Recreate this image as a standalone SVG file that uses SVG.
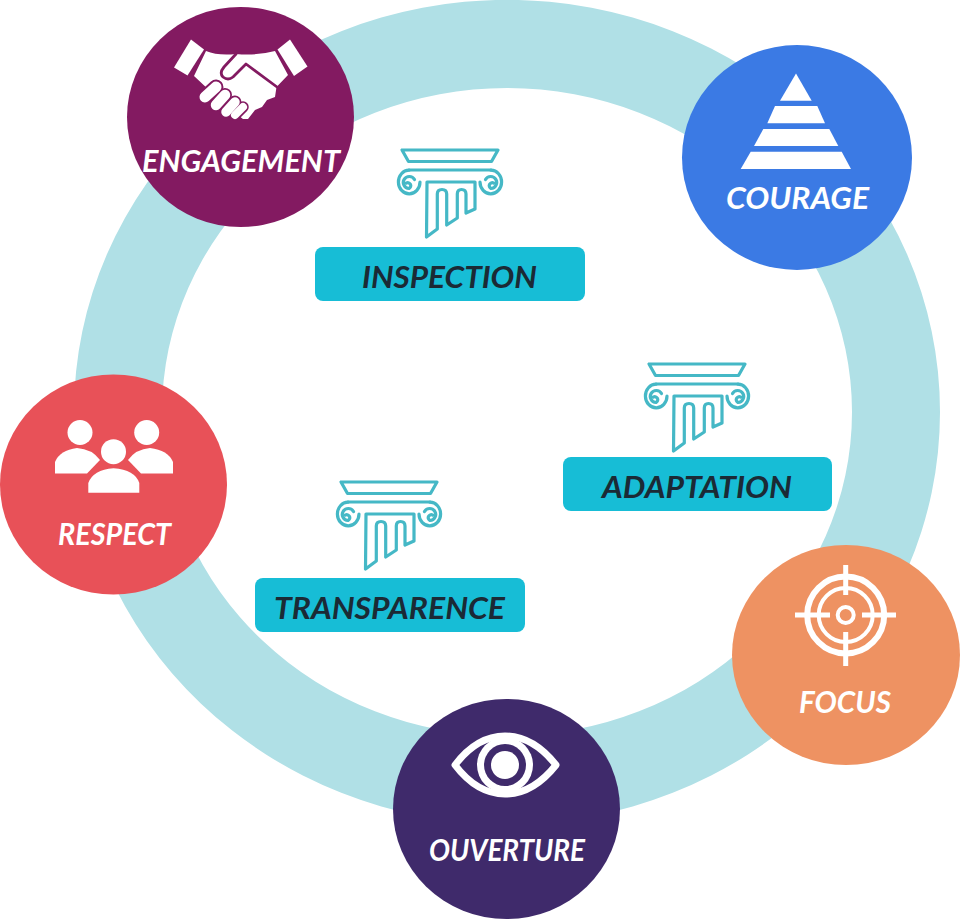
<svg xmlns="http://www.w3.org/2000/svg" width="960" height="919" viewBox="0 0 960 919">
<style>
.lbl{font-family:"Lato","Liberation Sans",sans-serif;font-weight:700;font-style:italic;font-size:30px;fill:#fff}
.pil{font-family:"Lato","Liberation Sans",sans-serif;font-weight:700;font-style:italic;font-size:31px;fill:#1b2a35}
.box{fill:#17bdd6}
.col{fill:none;stroke:#45b8c6;stroke-width:3.2;stroke-linejoin:round;stroke-linecap:round}
.w{fill:#fff}
.ws{fill:none;stroke:#fff}
</style>
<defs>
<g id="column" class="col">
<path d="M402 150H498L491.500 161.500H408.500Z"/>
<path d="M409 170H491"/>
<path d="M409 170.200A10.800 11.800 0 1 0 420 182"/>
<path d="M414.500 179.500A6 6 0 1 0 409 188.500A3 3 0 1 0 406.500 183"/>
<path d="M491 170.200A10.800 11.800 0 1 1 480 182"/>
<path d="M485.500 179.500A6 6 0 1 1 491 188.500A3 3 0 1 1 493.500 183"/>
<path d="M427 182H475V209L466 213V194Q466 189.500 461.500 189.500Q457.300 189.500 457.300 194V218L446.700 225V194Q446.700 189.500 442 189.500Q437.300 189.500 437.300 194V229L426.500 237Z"/>
</g>
</defs>
<rect width="960" height="919" fill="#fff"/>
<path id="ring" fill="#b0e0e6" fill-rule="evenodd" d="M74 412A433 412 0 1 1 940 412A433 412 0 1 1 74 412ZM162 412A345 324 0 1 0 852 412A345 324 0 1 0 162 412Z"/>
<g id="connectors"/>
<g id="engagement">
<ellipse cx="240.500" cy="117" rx="113.500" ry="110" fill="#831a61"/>
<path class="w" d="M191 39.500L204 49.500L187.500 75.500L174 67.500Z"/>
<path class="w" d="M290 39.500L307.500 66.500L294 76L277.500 49.500Z"/>
<path class="w" d="M206 51Q218 56 236 54Q256 56 275 51L288 75L276.500 87L275 97L267 100L262 107L255 110L248 119L243 119L225 105L194 76Z"/>
<path fill="none" stroke="#831a61" stroke-width="2.800" stroke-linecap="round" stroke-linejoin="round" d="M236 54L224 67Q219 73 223 77Q228 81 233 77L246 64L277 87"/>
<g fill="none" stroke-linecap="round">
<g stroke="#831a61">
<path stroke-width="15" d="M205 97L216 87"/><path stroke-width="14" d="M216 105L225 95"/><path stroke-width="13" d="M226 112L235 102"/><path stroke-width="11.500" d="M235 115L243 107"/>
</g>
<g stroke="#fff">
<path stroke-width="11" d="M205 97L216 87"/><path stroke-width="10.500" d="M216 105L225 95"/><path stroke-width="9.500" d="M226 112L235 102"/><path stroke-width="8" d="M235 115L243 107"/>
</g>
</g>
<text class="lbl" x="142" y="171.500" textLength="198" lengthAdjust="spacingAndGlyphs">ENGAGEMENT</text>
</g>
<g id="courage">
<ellipse cx="797" cy="157.500" rx="115" ry="112.500" fill="#3b7ae4"/>
<path class="w" d="M796 73.500L811.700 100.700H780Z"/>
<path class="w" d="M775 106H817.300L825 123.300H767.300Z"/>
<path class="w" d="M763.300 129H829.300L838.300 146H754Z"/>
<path class="w" d="M750.700 151.700H841.700L851 169H740.700Z"/>
<text class="lbl" x="726" y="208.500" textLength="143" lengthAdjust="spacingAndGlyphs">COURAGE</text>
</g>
<g id="respect">
<ellipse cx="113.500" cy="484.500" rx="113.500" ry="110" fill="#e85158"/>
<circle class="w" cx="80" cy="432.500" r="12.500"/>
<circle class="w" cx="146.700" cy="432.500" r="12.500"/>
<path class="w" d="M55 473.500V462Q60 450 77 448Q92 449 100 460L87 473.500Z"/>
<path class="w" d="M173 473.500V462Q168 450 150 448Q136 449 128 460L141 473.500Z"/>
<circle class="w" cx="113.500" cy="451.700" r="12.500"/>
<path class="w" d="M88.300 492.700V483Q93 470 113.500 468.300Q135 470 139.300 483V492.700Z"/>
<text class="lbl" x="58" y="544.500" textLength="113" lengthAdjust="spacingAndGlyphs">RESPECT</text>
</g>
<g id="focus">
<ellipse cx="846" cy="655" rx="114" ry="110" fill="#ee9262"/>
<g class="ws">
<circle cx="845.700" cy="615" r="38.500" stroke-width="6"/>
<circle cx="845.700" cy="615" r="27" stroke-width="4"/>
<circle cx="845.700" cy="615" r="8" stroke-width="4"/>
<path stroke-width="5" d="M845.700 565V595M845.700 632V666M795 615H830M862 615H896"/>
</g>
<text class="lbl" x="799" y="713" textLength="92" lengthAdjust="spacingAndGlyphs">FOCUS</text>
</g>
<g id="ouverture">
<ellipse cx="506.500" cy="809" rx="113.500" ry="110" fill="#3f2a6b"/>
<path fill="none" stroke="#fff" stroke-width="7" stroke-linejoin="round" d="M455 765Q477 736 505 736Q533 736 556 765Q533 794 505 794Q477 794 455 765Z"/>
<circle class="w" cx="505" cy="765" r="28"/>
<circle cx="505" cy="765" r="21" fill="#3f2a6b"/>
<circle class="w" cx="505" cy="765" r="14"/>
<text class="lbl" x="429" y="860.500" textLength="156" lengthAdjust="spacingAndGlyphs">OUVERTURE</text>
</g>
<g id="inspection">
<use href="#column"/>
<rect class="box" x="315" y="247" width="270" height="54" rx="8"/>
<text class="pil" x="362" y="288" textLength="175" lengthAdjust="spacingAndGlyphs">INSPECTION</text>
</g>
<g id="adaptation">
<use href="#column" x="247" y="214"/>
<rect class="box" x="563" y="457" width="269" height="54" rx="8"/>
<text class="pil" x="602" y="498" textLength="190" lengthAdjust="spacingAndGlyphs">ADAPTATION</text>
</g>
<g id="transparence">
<use href="#column" x="-61" y="332"/>
<rect class="box" x="255" y="578" width="270" height="54" rx="8"/>
<text class="pil" x="274" y="619" textLength="231" lengthAdjust="spacingAndGlyphs">TRANSPARENCE</text>
</g>
</svg>
